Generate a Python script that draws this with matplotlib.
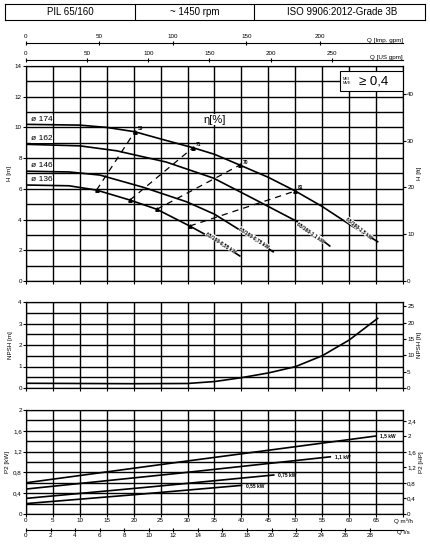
import matplotlib.pyplot as plt
import numpy as np

plt.rcParams["font.family"] = ["Liberation Sans", "DejaVu Sans"]

# H-Q curves (Q in m3/h, H in m)
Q_174 = [0, 10, 15, 20.2, 25, 31, 35, 39.7, 45, 50, 55, 60, 65.3]
H_174 = [10.2, 10.15, 10.0, 9.72, 9.25, 8.68, 8.25, 7.55, 6.75, 5.86, 4.85, 3.7, 2.56]
Q_162 = [0, 10, 16.8, 26, 34.8, 42, 50.9, 56.4]
H_162 = [8.9, 8.8, 8.48, 7.75, 6.7, 5.4, 3.77, 2.28]
Q_146 = [0, 8, 13.7, 21.8, 29.8, 35, 39.7, 45.9]
H_146 = [7.15, 7.1, 6.9, 6.1, 5.16, 4.35, 3.32, 1.9]
Q_136 = [0, 8, 13.1, 19.3, 24.3, 30.4, 35, 39.7]
H_136 = [6.25, 6.2, 5.92, 5.27, 4.67, 3.58, 2.7, 1.63]
DIAMETERS = ["ø 174", "ø 162", "ø 146", "ø 136"]
MOTORS = ["65/160-1,5 kW", "65/160-1,1 kW", "65/160-0,75 kW", "65/160-0,55 kW"]

# iso-efficiency lines: (Q start, H start, Q end, H end)
ETA_LABELS = ["59", "71", "70", "81"]
ETA_Q0 = [13.1, 19.3, 24.3, 30.4]
ETA_H0 = [5.92, 5.27, 4.67, 3.58]
ETA_Q1 = [20.2, 31, 39.7, 50]
ETA_H1 = [9.72, 8.68, 7.55, 5.86]

NPSH_Q = [0, 10, 20, 30, 35, 40, 45, 50, 55, 60, 65.3]
NPSH_H = [0.22, 0.21, 0.2, 0.21, 0.3, 0.48, 0.7, 0.99, 1.5, 2.23, 3.24]

P_LABELS = ["1,5 kW", "1,1 kW", "0,75 kW", "0,55 kW"]
P_Q = [[0, 30, 65], [0, 28, 56.5], [0, 23, 46], [0, 20, 40]]
P_VAL = [[0.6, 1.02, 1.5], [0.48, 0.78, 1.1], [0.3, 0.52, 0.75], [0.2, 0.37, 0.55]]

FS = 4.5
W, HT = 431, 554
fig = plt.figure(figsize=(W / 100, HT / 100), dpi=100)
L = 26 / W
WID = (403 - 26) / W


def AX_RECT(top_px, bot_px):
    return [L, 1 - bot_px / HT, WID, (bot_px - top_px) / HT]


def COMMA(v):
    return ("%g" % v).replace(".", ",")


def STYLE(ax, ymax, ystep, gridstep):
    ax.set_xlim(0, 70)
    ax.set_ylim(0, ymax)
    ax.set_xticks(np.arange(0, 70.1, 5))
    ax.set_yticks(np.arange(0, ymax + 1e-6, ystep))
    ax.set_yticks(np.arange(0, ymax + 1e-6, gridstep), minor=True)
    ax.grid(True, which="both", color="black", lw=1.0)
    ax.tick_params(labelsize=FS, length=2, pad=1)
    ax.tick_params(which="minor", length=0)
    for s in ax.spines.values():
        s.set_linewidth(0.8)


# title boxes
tb = fig.add_axes([5 / W, 1 - 20 / HT, 420 / W, 16 / HT])
tb.set_xticks([]); tb.set_yticks([])
for xv in [130 / 420, 249 / 420]:
    tb.axvline(xv, color="black", lw=0.8)
tb.set_xlim(0, 1); tb.set_ylim(0, 1)
for xc, t in zip([65 / 420, 190 / 420, 337 / 420], ["PIL 65/160", "~ 1450 rpm", "ISO 9906:2012-Grade 3B"]):
    tb.text(xc, 0.5, t, ha="center", va="center", fontsize=7)


def TOP_SCALE(y_px, factor, ticks, label):
    a = fig.add_axes([L, 1 - y_px / HT, WID, 0.0001])
    a.set_xlim(0, 70 * factor)
    a.set_yticks([])
    for s in ["left", "right", "bottom"]:
        a.spines[s].set_visible(False)
    a.xaxis.tick_top()
    a.set_xticks(ticks)
    a.tick_params(labelsize=FS, length=3, direction="inout", pad=1)
    a.text(70 * factor, 4, label, fontsize=FS, ha="right", va="bottom",
           transform=a.get_xaxis_transform())
    return a


TOP_SCALE(43, 3.666, [0, 50, 100, 150, 200], "Q [Imp. gpm]")
TOP_SCALE(60, 4.403, [0, 50, 100, 150, 200, 250], "Q [US gpm]")

# main H-Q
ax = fig.add_axes(AX_RECT(66, 281))
STYLE(ax, 14, 2, 1)
ax.set_xticklabels([])
ax.set_ylabel("H [m]", fontsize=FS, labelpad=2)
for Qs, Hs in [(Q_174, H_174), (Q_162, H_162), (Q_146, H_146), (Q_136, H_136)]:
    ax.plot(Qs, Hs, color="black", lw=1.2)
for q0, h0, q1, h1, lab in zip(ETA_Q0, ETA_H0, ETA_Q1, ETA_H1, ETA_LABELS):
    ax.plot([q0, q1], [h0, h1], color="black", lw=0.9, ls=(0, (5, 4)), marker="^", ms=2.5)
    ax.text(q1 + 0.5, h1 + 0.1, lab, fontsize=3.5, fontweight="bold")
for d, Hs in zip(DIAMETERS, [H_174, H_162, H_146, H_136]):
    ax.text(1, Hs[0] + 0.12, d, fontsize=6, va="bottom",
            bbox=dict(facecolor="white", edgecolor="none", pad=0.3))
for m, Qs, Hs, ang in zip(MOTORS, [Q_174, Q_162, Q_146, Q_136], [H_174, H_162, H_146, H_136], [-38, -35, -33, -33]):
    ax.text(Qs[-1] - 3.5, Hs[-1] + 0.9, m, fontsize=3.5, fontweight="bold", rotation=ang,
            ha="center", va="center", bbox=dict(facecolor="white", edgecolor="none", pad=0.2))
ax.text(35, 10.5, "η[%]", fontsize=8, ha="center", va="center",
        bbox=dict(facecolor="white", edgecolor="none", pad=0.5))
ax.add_patch(plt.Rectangle((58.3, 12.35), 11.7, 1.3, facecolor="white", edgecolor="black", lw=0.8, zorder=3))
ax.text(58.8, 13, "MEI\nMVE", fontsize=2.8, ha="left", va="center", linespacing=1.0, zorder=4)
ax.text(61.8, 12.98, "≥ 0,4", fontsize=9.5, ha="left", va="center", zorder=4)
axr = ax.twinx()
axr.set_ylim(0, 14 / 0.3048)
axr.set_yticks([0, 10, 20, 30, 40])
axr.tick_params(labelsize=FS, length=2, pad=1)
axr.set_ylabel("H [ft]", fontsize=FS, labelpad=2)

# NPSH
an = fig.add_axes(AX_RECT(302, 388))
STYLE(an, 4, 1, 0.5)
an.set_xticklabels([])
an.set_ylabel("NPSH [m]", fontsize=FS, labelpad=4)
an.plot(NPSH_Q, NPSH_H, color="black", lw=1.2)
anr = an.twinx()
anr.set_ylim(0, 4 * 6.58)
anr.set_yticks([0, 5, 10, 15, 20, 25])
anr.tick_params(labelsize=FS, length=2, pad=1)
anr.set_ylabel("NPSH [ft]", fontsize=FS, labelpad=2)

# power
ap = fig.add_axes(AX_RECT(410, 514))
STYLE(ap, 2, 0.4, 0.2)
ap.set_yticklabels([COMMA(v) for v in np.arange(0, 2.01, 0.4).round(1)])
ap.set_xticklabels([str(v) for v in range(0, 66, 5)] + [""])
ap.text(70, -0.09, "Q m³/h", fontsize=FS, ha="center", va="top")
ap.set_ylabel("P2 [kW]", fontsize=FS, labelpad=2)
for qs, ps, lab in zip(P_Q, P_VAL, P_LABELS):
    ap.plot(qs, ps, color="black", lw=1.2)
    ap.text(qs[-1] + 0.8, ps[-1], lab, fontsize=3.5, fontweight="bold", va="center")
apr = ap.twinx()
apr.set_ylim(0, 2 / 0.7457)
apr.set_yticks(np.arange(0, 2.41, 0.4))
apr.set_yticklabels([COMMA(v) for v in np.arange(0, 2.41, 0.4).round(1)])
apr.tick_params(labelsize=FS, length=2, pad=1)
apr.set_ylabel("P2 [HP]", fontsize=FS, labelpad=2)

# l/s scale (as drawn on the sheet)
al = fig.add_axes([L, 1 - 530 / HT, WID, 0.0001])
al.set_xlim(0, 70 / 2.28)
al.set_yticks([])
for s in ["left", "right", "top"]:
    al.spines[s].set_visible(False)
al.set_xticks(range(0, 29, 2))
al.tick_params(labelsize=FS, length=3, direction="inout", pad=1)
al.text(70 / 2.28, -6, "Q l/s", fontsize=FS, ha="center", va="top",
        transform=al.get_xaxis_transform())

fig.savefig("out.png", dpi=100)
